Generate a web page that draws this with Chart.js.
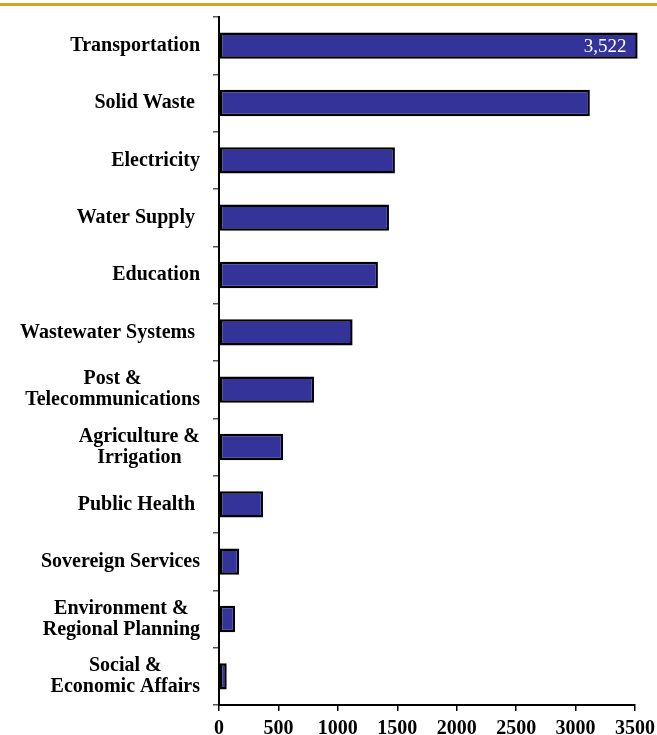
<!DOCTYPE html>
<html>
<head>
<meta charset="utf-8">
<script src="https://cdn.jsdelivr.net/npm/chart.js@4/dist/chart.umd.min.js"></script>
<style>
    html, body { margin: 0; padding: 0; background: #fff; }
    #wrap { position: relative; width: 657px; height: 735px; }
    #rule { position: absolute; left: 0; top: 3px; width: 657px; height: 3px; background: #d9a51c; }
</style>
</head>
<body>
<div id="wrap">
    <div id="rule"></div>
    <canvas id="sectorChart"></canvas>
</div>
<script>
const categories = [
    ['Transportation'],
    ['Solid Waste '],
    ['Electricity'],
    ['Water Supply '],
    ['Education'],
    ['Wastewater Systems '],
    ['Post &', 'Telecommunications'],
    ['Agriculture &', 'Irrigation'],
    ['Public Health '],
    ['Sovereign Services'],
    ['Environment &', 'Regional Planning'],
    ['Social &', 'Economic Affairs'],
];
const values = [3522, 3120, 1480, 1430, 1337, 1124, 800, 540, 370, 170, 135, 65];
const valueLabels = ['3,522'];
const xTicks = [0, 500, 1000, 1500, 2000, 2500, 3000, 3500];

const barBlue = '#333399';
const serif = '"Liberation Serif", "Times New Roman", serif';

// category labels: lines centred on each other, block right-aligned at the axis
const categoryLabels = {
    id: 'categoryLabels',
    afterDraw(chart) {
        const ctx = chart.ctx;
        const y = chart.scales.y;
        const right = chart.chartArea.left - 19;
        const lineHeight = 21;
        ctx.save();
        ctx.font = 'bold 20px ' + serif;
        ctx.fillStyle = '#000';
        ctx.textAlign = 'center';
        ctx.textBaseline = 'middle';
        categories.forEach((lines, i) => {
            const widest = Math.max(...lines.map(l => ctx.measureText(l.trimEnd()).width));
            const trail = ctx.measureText(lines[0]).width - ctx.measureText(lines[0].trimEnd()).width;
            const cx = right - trail - widest / 2;
            const cy = y.getPixelForValue(i);
            const top = cy - (lines.length - 1) * lineHeight / 2;
            lines.forEach((l, k) => ctx.fillText(l.trimEnd(), cx, top + k * lineHeight));
        });
        ctx.restore();
    },
};

// value label inside the first bar
const valueLabel = {
    id: 'valueLabel',
    afterDatasetsDraw(chart) {
        const ctx = chart.ctx;
        const bars = chart.getDatasetMeta(0).data;
        ctx.save();
        ctx.font = '19px ' + serif;
        ctx.fillStyle = '#fff';
        ctx.textAlign = 'right';
        ctx.textBaseline = 'middle';
        valueLabels.forEach((txt, i) => {
            const bar = bars[i];
            ctx.fillText(txt, bar.x - 11, bar.y + 1);
        });
        ctx.restore();
    },
};

new Chart(document.getElementById('sectorChart'), {
    type: 'bar',
    data: {
        labels: categories,
        datasets: [{
            data: values,
            backgroundColor: barBlue,
            borderColor: '#000',
            borderWidth: 2.5,
            borderSkipped: false,
            categoryPercentage: 1,
            barPercentage: 0.46,
            clip: false,
        }],
    },
    options: {
        indexAxis: 'y',
        responsive: true,
        maintainAspectRatio: false,
        animation: false,
        layout: { padding: { top: 17, left: 0, right: 0, bottom: 0 } },
        plugins: {
            legend: { display: false },
            tooltip: { enabled: false },
        },
        scales: {
            x: {
                min: 0,
                max: 3500,
                afterBuildTicks: scale => { scale.ticks = xTicks.map(v => ({ value: v })); },
                afterFit: scale => {
                    scale.height = 30;
                    scale.paddingLeft = 0;
                    scale.paddingRight = 22;
                },
                border: { color: '#000', width: 2 },
                grid: { drawOnChartArea: false, drawTicks: true, tickLength: 6, color: '#000', lineWidth: 1.5 },
                ticks: {
                    color: '#000',
                    padding: 6,
                    maxRotation: 0,
                    callback: value => String(value),
                    font: { family: serif, size: 20, weight: 'bold' },
                },
            },
            y: {
                offset: true,
                afterFit: scale => { scale.width = 219; },
                border: { color: '#000', width: 2 },
                grid: { drawOnChartArea: false, drawTicks: true, tickLength: 6, offset: true, color: '#555', lineWidth: 1.5 },
                ticks: { display: false },
            },
        },
    },
    plugins: [categoryLabels, valueLabel],
});
</script>
</body>
</html>
